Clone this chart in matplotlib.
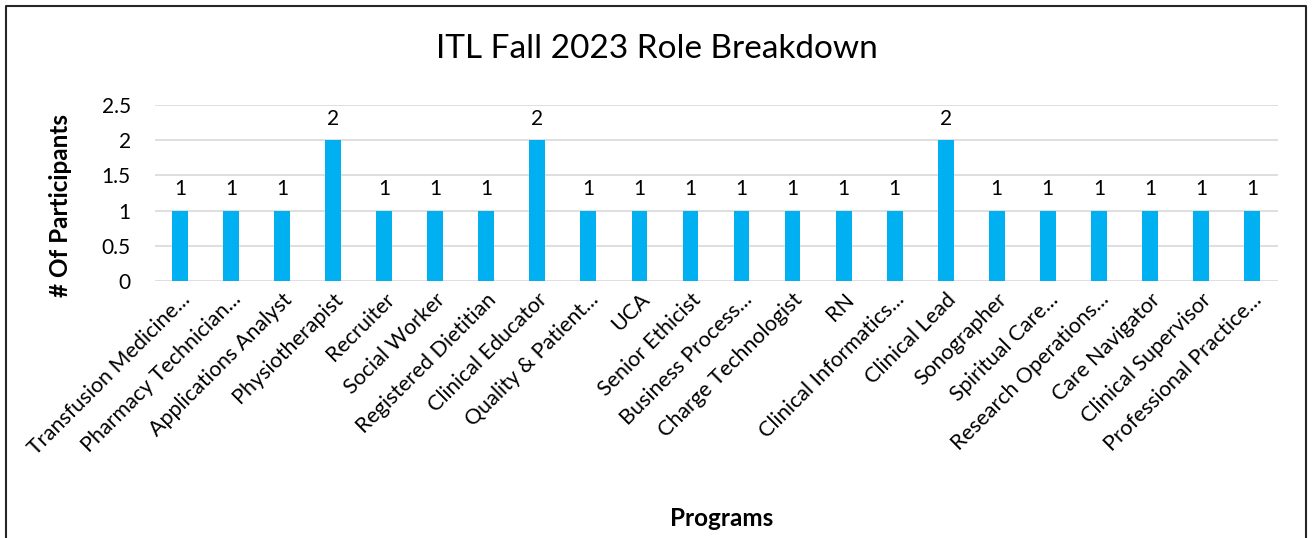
import numpy as np
import matplotlib.pyplot as plt
from matplotlib.lines import Line2D

plt.rcParams['font.family'] = ['Lato', 'DejaVu Sans']

roles = ['Transfusion Medicine...', 'Pharmacy Technician...', 'Applications Analyst',
         'Physiotherapist', 'Recruiter', 'Social Worker', 'Registered Dietitian',
         'Clinical Educator', 'Quality & Patient...', 'UCA', 'Senior Ethicist',
         'Business Process...', 'Charge Technologist', 'RN', 'Clinical Informatics...',
         'Clinical Lead', 'Sonographer', 'Spiritual Care...', 'Research Operations...',
         'Care Navigator', 'Clinical Supervisor', 'Professional Practice...']
counts = [1, 1, 1, 2, 1, 1, 1, 2, 1, 1, 1, 1, 1, 1, 1, 2, 1, 1, 1, 1, 1, 1]
yticks = [0, 0.5, 1, 1.5, 2, 2.5]

W, H = 1314, 538
fig = plt.figure(figsize=(W/100, H/100), dpi=100)
ax = fig.add_axes([154.5/W, 1 - 281/H, 1123/W, 176/H])

x = np.arange(len(roles))
ax.bar(x, counts, width=0.31, color='#00B0F0', zorder=3)
for xi, c in zip(x, counts):
    ax.text(xi, c + 0.16, str(c), ha='center', va='bottom', fontsize=15, color='#000000')

ax.set_xlim(-0.5, len(roles) - 0.5)
ax.set_ylim(0, 2.5)
ax.set_yticks(yticks)
ax.set_yticklabels(['0', '0.5', '1', '1.5', '2', '2.5'], fontsize=15)
ax.grid(axis='y', color='#D9D9D9', linewidth=1.2, zorder=0)
for s in ax.spines.values():
    s.set_visible(False)
ax.tick_params(axis='y', length=0, pad=17)
ax.tick_params(axis='x', length=0, pad=6)
ax.set_xticks(x)
ax.set_xticklabels(roles, rotation=45, ha='right', rotation_mode='anchor', fontsize=15.5)

fig.text(61/W, 1 - 205/H, '# Of Participants', rotation=90, ha='center', va='center',
         fontsize=17.5, fontweight='bold')
fig.text(722/W, 1 - 518/H, 'Programs', ha='center', va='center', fontsize=17.5, fontweight='bold')
fig.text(657/W, 1 - 49/H, 'ITL Fall 2023 Role Breakdown', ha='center', va='center', fontsize=24)

# chart frame (left, top, right edges)
fx = [6/W, 6/W, 1306/W, 1306/W]
fy = [0, 1 - 6/H, 1 - 6/H, 0]
fig.lines.append(Line2D(fx, fy, transform=fig.transFigure, color='#262626', linewidth=1.5))

fig.savefig('out.png', dpi=100)
